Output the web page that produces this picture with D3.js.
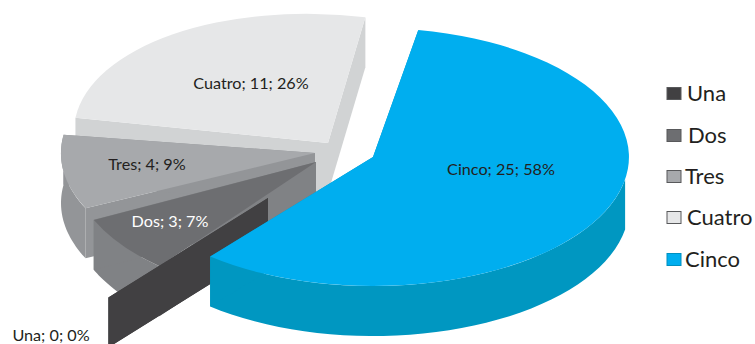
<!DOCTYPE html>
<html><head><meta charset="utf-8">
<script src="https://cdn.jsdelivr.net/npm/d3@7"></script>
<style>html,body{margin:0;background:#fff}svg{display:block}text{font-family:Lato,"Noto Sans",sans-serif}</style>
</head><body><svg id="chart" width="755" height="344"></svg>
<script>
const categories = ["Una", "Dos", "Tres", "Cuatro", "Cinco"];
const counts = [0, 3, 4, 11, 25];
const shares = [0, 7, 9, 26, 58];
const topColors = ["#414042", "#6d6e71", "#a7a9ac", "#e6e7e8", "#00aeef"];
const wallColors = ["#414042", "#808285", "#939598", "#d1d3d4", "#0097c1"];
const labelColors = ["#231f20", "#ffffff", "#231f20", "#231f20", "#231f20"];

// Exploded slice geometry: apex, radii and slight shear of each wedge on the tilted plane
const apexX = [268, 316, 315, 328, 373];
const apexY = [198, 162, 153, 143, 157];
const radiusX = [251, 246, 254, 254, 256];
const radiusY = [129, 135, 129, 129, 129];
const shearX = [0, 0, 0, 0.06, 0];
const shearY = [0, 0, 0, 0.028, 0];
const labelX = [51, 170, 147, 251, 501];
const labelY = [337, 223, 166, 85, 171];
const legendRowY = [94, 136, 177, 218, 260];
const legendTextX = [687, 688, 685, 687, 685];

const DEPTH = 50;
const deg = Math.PI / 180;
const FRONT_FROM = 100 * deg, FRONT_TO = 278 * deg, TAU = 2 * Math.PI;
const START = 219.5 * deg;

const svg = d3.select("#chart");
const arcs = d3.pie().sort(null).startAngle(START).endAngle(START + TAU)(counts);
const unitArc = d3.arc().innerRadius(0).outerRadius(1);
const line = d3.line();

const rim = (i, a, dy = 0) => {
  const u = radiusX[i] * Math.sin(a), v = -radiusY[i] * Math.cos(a);
  return [apexX[i] + u + shearX[i] * v, apexY[i] + v + shearY[i] * u + dy];
};

// Curved outer wall between the top rim and the same rim lowered by the depth
function outerWall(i, a0, a1) {
  const steps = d3.range(0, 41).map(k => a0 + (a1 - a0) * k / 40);
  return line([...steps.map(a => rim(i, a)), ...steps.reverse().map(a => rim(i, a, DEPTH))]) + "Z";
}
// Flat cut wall running from the apex out to the rim
function cutWall(i, a) {
  return line([[apexX[i], apexY[i]], rim(i, a), rim(i, a, DEPTH), [apexX[i], apexY[i] + DEPTH]]) + "Z";
}

// Painted back to front so nearer wedges overlap the others
[3, 2, 1, 0, 4].forEach(i => {
  const d = arcs[i];
  const g = svg.append("g");
  const span = d.endAngle - d.startAngle;
  const from = d.startAngle % TAU;
  const a0 = Math.max(from, FRONT_FROM);
  const a1 = Math.min(from + span, FRONT_TO);
  if (a1 > a0) g.append("path").attr("d", outerWall(i, a0, a1)).attr("fill", wallColors[i]);
  g.append("path").attr("d", cutWall(i, d.startAngle)).attr("fill", wallColors[i]);
  g.append("path").attr("d", cutWall(i, d.endAngle)).attr("fill", wallColors[i]);
  if (span > 0) {
    const m = [radiusX[i], shearY[i] * radiusX[i], shearX[i] * radiusY[i], radiusY[i], apexX[i], apexY[i]];
    g.append("path")
      .attr("d", unitArc(d))
      .attr("transform", `matrix(${m.join(",")})`)
      .attr("fill", topColors[i]);
  }
});

// Data labels: category; count; share
categories.forEach((c, i) => {
  svg.append("text")
    .attr("x", labelX[i]).attr("y", labelY[i])
    .attr("text-anchor", "middle").attr("dominant-baseline", "middle")
    .attr("font-size", 16.2).attr("fill", labelColors[i])
    .text(`${c}; ${counts[i]}; ${shares[i]}%`);
});

// Legend
categories.forEach((c, i) => {
  svg.append("rect")
    .attr("x", 667).attr("y", legendRowY[i] - 6.5).attr("width", 14).attr("height", 12)
    .attr("fill", topColors[i]).attr("stroke", i === 4 ? "#0090c0" : "#58595b").attr("stroke-width", 1);
  svg.append("text")
    .attr("x", legendTextX[i]).attr("y", legendRowY[i] + 1)
    .attr("dominant-baseline", "middle")
    .attr("font-size", 22).attr("fill", "#231f20")
    .text(c);
});
</script></body></html>
